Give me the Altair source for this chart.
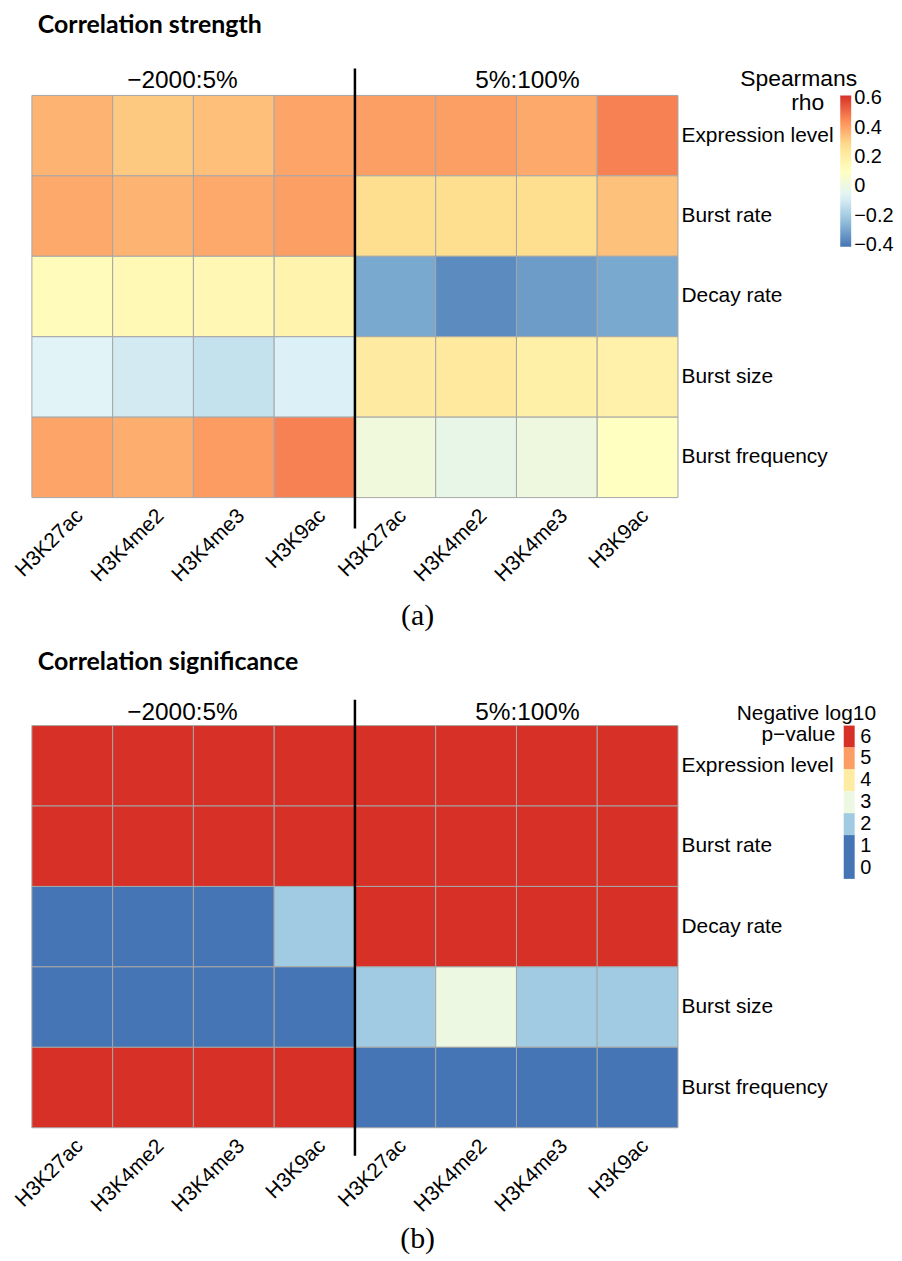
import altair as alt
import pandas as pd

# ---------------- data ----------------
rows = ["Expression level", "Burst rate", "Decay rate", "Burst size", "Burst frequency"]
marks = ["H3K27ac", "H3K4me2", "H3K4me3", "H3K9ac"]
groups = ["−2000:5%", "5%:100%"]

# Spearman rho, one list per row: 4 marks for -2000:5%, then 4 for 5%:100%
rho_expression = [0.37, 0.325, 0.345, 0.40, 0.41, 0.41, 0.39, 0.47]
rho_burst_rate = [0.39, 0.37, 0.39, 0.41, 0.28, 0.28, 0.28, 0.34]
rho_decay_rate = [0.12, 0.14, 0.15, 0.17, -0.29, -0.36, -0.32, -0.29]
rho_burst_size = [-0.06, -0.095, -0.127, -0.075, 0.215, 0.225, 0.19, 0.185]
rho_burst_freq = [0.40, 0.38, 0.42, 0.47, 0.02, -0.02, 0.01, 0.10]

# negative log10 p-value (binned), same layout
lp_expression = [6, 6, 6, 6, 6, 6, 6, 6]
lp_burst_rate = [6, 6, 6, 6, 6, 6, 6, 6]
lp_decay_rate = [1, 1, 1, 2, 6, 6, 6, 6]
lp_burst_size = [0, 0, 0, 0, 2, 3, 2, 2]
lp_burst_freq = [6, 6, 6, 6, 0, 0, 0, 0]

rho_ticks = [-0.4, -0.2, 0, 0.2, 0.4, 0.6]
rho_domain = [-0.41, -0.238, -0.067, 0.105, 0.277, 0.448, 0.62]
rho_colors = ["#4575B4", "#91BFDB", "#E0F3F8", "#FFFFBF", "#FEE090", "#FC8D59", "#D73027"]

lp_levels = ["6", "5", "4", "3", "2", "1", "0"]
lp_colors = ["#D73027", "#FC9E64", "#FEECA3", "#ECF8E1", "#A1CBE2", "#4575B4", "#4575B4"]

titles = ["Correlation strength", "Correlation significance"]
captions = ["(a)", "(b)"]
legend_titles = [["Spearmans", "rho"], ["Negative log10", "p\u2212value"]]

cols = [f"{g}|{m}" for g in groups for m in marks]

def make_df(values_by_row, name):
    recs = []
    for r, vals in zip(rows, values_by_row):
        for c, v in zip(cols, vals):
            recs.append({"row": r, "col": c, name: v})
    return pd.DataFrame(recs)

df_rho = make_df([rho_expression, rho_burst_rate, rho_decay_rate, rho_burst_size, rho_burst_freq], "rho")
df_lp = make_df([lp_expression, lp_burst_rate, lp_decay_rate, lp_burst_size, lp_burst_freq], "lp")
df_lp["lvl"] = df_lp["lp"].astype(str)

FONT = "Liberation Sans"
W, H = 649, 404


def panel(df, fill, title, caption, ltitle, geom):
    xscale = alt.Scale(paddingInner=0, paddingOuter=0)
    x_axis = alt.Axis(
        labelAngle=-45, labelAlign="right", labelBaseline="top",
        labelFontSize=21, labelFont=FONT, labelColor="black",
        labelExpr="split(datum.label, '|')[1]", labelPadding=geom["lpad"],
        ticks=False, domain=False,
        title=caption, titleFont="Liberation Serif", titleFontSize=30,
        titleFontWeight="normal", titleColor="black", titleX=geom["capx"],
        titleY=geom["capy"], titleAlign="center", titleBaseline="alphabetic",
    )
    y_axis = alt.Axis(
        orient="right", labelFontSize=21, labelFont=FONT, labelColor="black",
        ticks=False, domain=False, title=None, labelPadding=3, labelLimit=0,
    )
    heat = alt.Chart(df).mark_rect(stroke="#a6a6a6", strokeWidth=1).encode(
        x=alt.X("col:N", sort=cols, scale=xscale, axis=x_axis),
        y=alt.Y("row:N", sort=rows, scale=alt.Scale(paddingInner=0, paddingOuter=0), axis=y_axis),
        fill=fill,
    )
    sep = alt.Chart(pd.DataFrame({"col": [cols[4]]})).mark_rule(color="black", strokeWidth=2.5).encode(
        x=alt.X("col:N", sort=cols, bandPosition=0),
        y=alt.value(geom["rule_top"]), y2=alt.value(geom["rule_bot"]),
    )
    hdr_l = alt.Chart(pd.DataFrame({"col": [cols[2]], "t": [groups[0]]})).mark_text(
        font=FONT, fontSize=24.5, baseline="alphabetic", align="center", dx=-11, color="black"
    ).encode(x=alt.X("col:N", sort=cols, bandPosition=0), y=alt.value(geom["hdr_y"]), text="t:N")
    hdr_r = alt.Chart(pd.DataFrame({"col": [cols[6]], "t": [groups[1]]})).mark_text(
        font=FONT, fontSize=24.5, baseline="alphabetic", align="center", dx=11, color="black"
    ).encode(x=alt.X("col:N", sort=cols, bandPosition=0), y=alt.value(geom["hdr_y"]), text="t:N")
    ttl = alt.Chart(pd.DataFrame({"t": [title]})).mark_text(
        font="Lato", fontWeight="bold", fontSize=25, align="left", baseline="alphabetic", color="black"
    ).encode(x=alt.value(6), y=alt.value(geom["title_y"]), text="t:N")
    lt1 = alt.Chart(pd.DataFrame({"t": [ltitle[0]]})).mark_text(
        font=FONT, fontSize=geom["lt_size"], align="right", baseline="alphabetic", color="black"
    ).encode(x=alt.value(geom["lt1_x"]), y=alt.value(geom["lt1_y"]), text="t:N")
    lt2 = alt.Chart(pd.DataFrame({"t": [ltitle[1]]})).mark_text(
        font=FONT, fontSize=geom["lt_size"], align="right", baseline="alphabetic", color="black"
    ).encode(x=alt.value(geom["lt2_x"]), y=alt.value(geom["lt2_y"]), text="t:N")
    return alt.layer(heat, sep, hdr_l, hdr_r, ttl, lt1, lt2).properties(width=W, height=H)


fill_a = alt.Fill(
    "rho:Q",
    scale=alt.Scale(domain=rho_domain, range=rho_colors, interpolate="rgb"),
    legend=alt.Legend(
        orient="none", legendX=812, legendY=0, title=None, direction="vertical",
        gradientLength=152, gradientThickness=11, gradientStrokeWidth=0,
        values=rho_ticks, format=".1~f", labelFontSize=20, labelFont=FONT,
        labelColor="black", labelOverlap=False, labelOffset=3, padding=0,
    ),
)
fill_b = alt.Fill(
    "lvl:N",
    scale=alt.Scale(domain=lp_levels, range=lp_colors),
    legend=alt.Legend(
        orient="none", legendX=810, legendY=0, title=None, direction="vertical",
        symbolType="M-0.5,-1H0.5V1H-0.5Z", symbolSize=484, symbolStrokeWidth=0,
        symbolOpacity=1, rowPadding=0, labelFontSize=20, labelFont=FONT,
        labelColor="black", labelOffset=0, padding=0,
    ),
)

geom_a = dict(lpad=7, capx=387, capy=127, rule_top=-27, rule_bot=435, hdr_y=-7,
              title_y=-63, lt_size=23, lt1_x=829, lt1_y=-9, lt2_x=796, lt2_y=15)
geom_b = dict(lpad=7, capx=387, capy=120, rule_top=-26, rule_bot=432, hdr_y=-6,
              title_y=-56, lt_size=21, lt1_x=848, lt1_y=-6, lt2_x=807, lt2_y=15)

pa = panel(df_rho, fill_a, titles[0], captions[0], legend_titles[0], geom_a)
pb = panel(df_lp, fill_b, titles[1], captions[1], legend_titles[1], geom_b)

chart = alt.vconcat(pa, pb, spacing=20).resolve_scale(fill="independent").properties(
    padding={"left": 2, "top": 2, "right": 0, "bottom": 0}
).configure_view(stroke=None)

chart.save("out.html", embed_options={"renderer": "svg", "actions": False})
